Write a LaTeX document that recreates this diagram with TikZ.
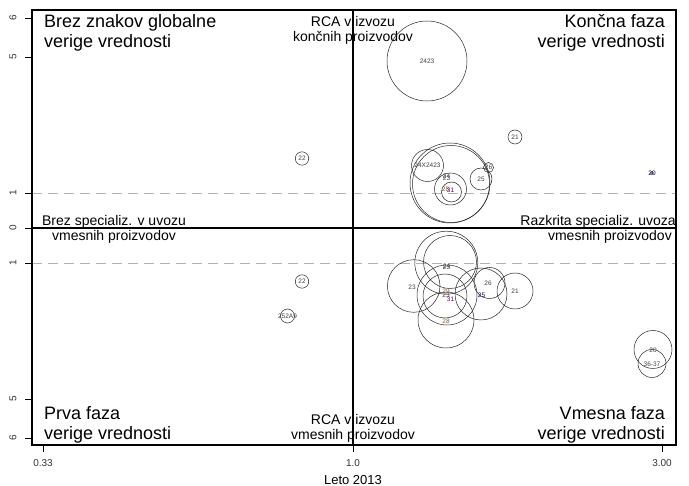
\documentclass[tikz,border=0pt]{standalone}
\usepackage{fontspec}
\setmainfont{Liberation Sans}
\begin{document}
\begin{tikzpicture}[x=1pt,y=-1pt,
  bub/.style={draw=black!85, line width=0.5pt},
  lab/.style={font=\fontsize{6.5}{7}\selectfont, text=black!75, inner sep=0},
  bigtxt/.style={font=\fontsize{18}{21}\selectfont, inner sep=0},
  midtxt/.style={font=\fontsize{14}{15}\selectfont, inner sep=0},
  ticklab/.style={font=\fontsize{10}{11}\selectfont, inner sep=0, text=black!80},
  frameline/.style={line width=1.1pt, black},
  refline/.style={dashed, dash pattern=on 10pt off 6pt, draw=black!30, line width=0.9pt},
]
\useasboundingbox (0,0) rectangle (689,486);
% frame corners
\coordinate (tl) at (32,10);
\coordinate (br) at (676,445);
% reference lines
\coordinate (du1) at (32,193); \coordinate (du2) at (676,193);
\coordinate (dl1) at (32,263); \coordinate (dl2) at (676,263);
\draw[refline] (du1) -- (du2);
\draw[refline] (dl1) -- (dl2);
\coordinate (h1) at (32,228); \coordinate (h2) at (676,228);
\coordinate (v1) at (353,10); \coordinate (v2) at (353,445);
\draw[line width=1.1pt] (h1) -- (h2);
\draw[line width=1.1pt] (v1) -- (v2);
\draw[frameline] (tl) rectangle (br);

% y ticks
\foreach \yy/\tt in {18/6,57/5,193/1,228/0,263/1,399/5,438/6}{
  \draw[line width=0.6pt] (32,\yy) -- (25,\yy);
  \node[ticklab, rotate=90] at (13,\yy) {\tt};
}
% x ticks
\foreach \xx/\tt in {43/0.33,353/1.0,662/3.00}{
  \draw[line width=0.6pt] (\xx,445) -- (\xx,452);
  \node[ticklab] at (\xx,463) {\tt};
}
\node[font=\fontsize{13}{14}\selectfont, inner sep=0] (xlab) at (353,480) {Leto 2013};

% quadrant texts
\node[bigtxt, anchor=base west] (tl1) at (44,28) {Brez znakov globalne};
\node[bigtxt, anchor=base west] (tl2) at (44,48) {verige vrednosti};
\node[bigtxt, anchor=base east] (tr1) at (665,28) {Končna faza};
\node[bigtxt, anchor=base east] (tr2) at (665,48) {verige vrednosti};
\node[bigtxt, anchor=base west] (bl1) at (44,420) {Prva faza};
\node[bigtxt, anchor=base west] (bl2) at (44,440) {verige vrednosti};
\node[bigtxt, anchor=base east] (br1) at (665,420) {Vmesna faza};
\node[bigtxt, anchor=base east] (br2) at (665,440) {verige vrednosti};
\node[midtxt, anchor=base] (tc1) at (353,27) {RCA v izvozu};
\node[midtxt, anchor=base] (tc2) at (353,42) {končnih proizvodov};
\node[midtxt, anchor=base] (bc1) at (353,425) {RCA v izvozu};
\node[midtxt, anchor=base] (bc2) at (353,440) {vmesnih proizvodov};
\node[midtxt, anchor=base] (ml1) at (114,226) {Brez specializ. v uvozu};
\node[midtxt, anchor=base] (ml2) at (114,241) {vmesnih proizvodov};
\node[midtxt, anchor=base east] (mr1) at (676,226) {Razkrita specializ. uvoza};
\node[midtxt, anchor=base east] (mr2) at (672,241) {vmesnih proizvodov};

% ---- upper bubbles
\draw[bub] (427,61) circle (40);
\node[lab] (a2423) at (427,61) {2423};
\draw[bub] (515,137) circle (7);
\node[lab] (a21) at (515,137) {21};
\draw[bub] (302,158.5) circle (6.7);
\node[lab] (a22) at (302,158.5) {22};
\draw[bub] (450,183) circle (40);
\draw[bub] (451,184) circle (38.5);
\draw[bub] (427.5,165.5) circle (16);
\node[lab] (a24x) at (427.5,165.5) {24X2423};
\draw[bub] (450.5,189) circle (16);
\node[lab] (a24) at (446.5,176) {24};
\node[lab] (a23) at (446.5,178.5) {23};
\draw[bub] (451.5,192) circle (10);
\node[lab, text=brown!70!black] (a28) at (445.5,189.5) {28};
\node[lab, text=violet!80!black] (a31) at (450.5,190) {31};
\draw[bub] (481,179) circle (11);
\node[lab] (a25) at (481,179.5) {25};
\draw[bub] (488.5,167.5) circle (5);
\node[lab] (a26) at (488.5,167.5) {26};
\draw[bub] (652,173) circle (1.5);
\node[lab, text=blue!40!black] (a20) at (652,173) {20};

% ---- lower bubbles
\draw[bub] (446.3,262.7) circle (31.5);
\draw[bub] (450,262) circle (26.5);
\draw[bub] (413.7,286) circle (26.3);
\draw[bub] (447,295) circle (30);
\draw[bub] (445,296) circle (22);
\draw[bub] (446,320) circle (28);
\draw[bub] (481,294) circle (26);
\draw[bub] (489.5,283) circle (15.5);
\draw[bub] (515,291) circle (18);
\node[lab] (b24) at (446.5,266) {24};
\node[lab] (b23b) at (446.5,267.5) {23};
\node[lab] (b23) at (412,287) {23};
\node[lab, text=brown!70!black] (b29) at (446,291.5) {29};
\node[lab] (b23c) at (446,295) {23};
\node[lab, text=violet!80!black] (b31) at (450.5,299.5) {31};
\node[lab, text=brown!70!black] (b28) at (446,321.5) {28};
\node[lab] (b26) at (488,283) {26};
\node[lab] (b21) at (515,291) {21};
\node[lab, text=blue!40!black] (b25) at (481.5,295) {25};
\draw[bub] (302,281.5) circle (6.7);
\node[lab] (b22) at (302,281.5) {22};
\draw[bub] (287.5,316) circle (7);
\node[lab] (b252) at (287.5,316) {252A9};
\draw[bub] (653,349.5) circle (19);
\draw[bub] (652,363.5) circle (14);
\node[lab] (b20) at (653,350.5) {20};
\node[lab] (b3637) at (652,364) {36-37};
\end{tikzpicture}
\end{document}
